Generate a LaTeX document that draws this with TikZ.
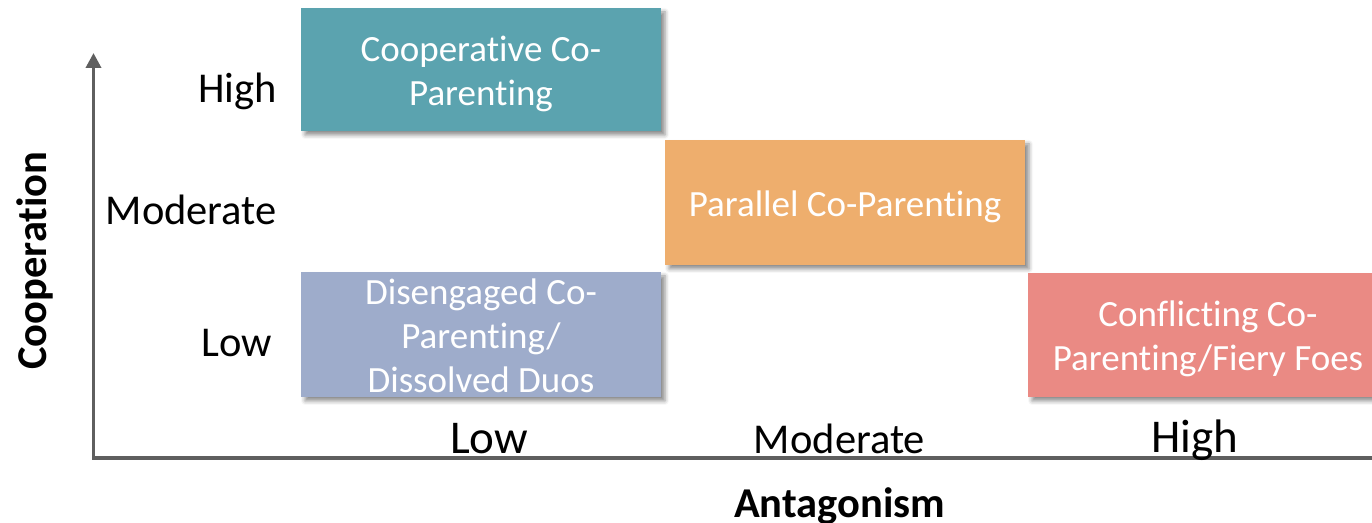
\documentclass[tikz,border=0pt]{standalone}
\usepackage{fontspec}
\setmainfont[Ligatures={NoCommon}]{Carlito}
\usetikzlibrary{arrows.meta,shadows.blur}
\definecolor{coopcol}{HTML}{5BA3AF}
\definecolor{parcol}{HTML}{EEAE6D}
\definecolor{discol}{HTML}{9EACCB}
\definecolor{concol}{HTML}{EA8A84}
\definecolor{axiscol}{HTML}{5F5F5F}
\newcommand{\bxtxt}[1]{\raisebox{-11pt}[0pt][0pt]{\begin{tabular}{@{}c@{}}#1\end{tabular}}}
\tikzset{
  stylebox/.style={rectangle, inner sep=0pt, minimum width=360pt, text=white, align=center,
    font=\fontsize{37}{44}\selectfont,
    blur shadow={shadow xshift=4pt, shadow yshift=-4pt, shadow blur radius=4pt, shadow opacity=45}},
  ylab/.style={anchor=base east, inner sep=0pt, font=\fontsize{42.5}{50}\selectfont},
  xlabbig/.style={anchor=base, inner sep=0pt, font=\fontsize{47}{54}\selectfont},
  xlab/.style={anchor=base, inner sep=0pt, font=\fontsize{42.5}{50}\selectfont},
  axtitle/.style={anchor=base, inner sep=0pt, font=\fontsize{42.5}{50}\selectfont\bfseries},
  axisline/.style={draw=axiscol, line width=3.6pt, line join=miter}
}
\begin{document}
\begin{tikzpicture}[x=1pt,y=1pt]
\useasboundingbox (0,0) rectangle (1372,522);
\clip (0,0) rectangle (1372,522);
% axes
\coordinate (origin) at (93.5,64);
\coordinate (ytip) at (93.5,469);
\coordinate (xend) at (1372,64);
\draw[axisline, {Triangle[width=15pt,length=15pt]}-] (ytip) -- (origin) -- (xend);
% boxes
\node[stylebox, fill=coopcol, minimum height=123pt] (coop) at (481,452.5) {\bxtxt{Cooperative Co-\\Parenting}};
\node[stylebox, fill=parcol, minimum height=125pt] (par) at (845,319.5) {\bxtxt{Parallel Co-Parenting}};
\node[stylebox, fill=discol, minimum height=125pt] (dis) at (481,187.5) {\bxtxt{Disengaged Co-\\Parenting/\\Dissolved Duos}};
\node[stylebox, fill=concol, minimum height=124pt] (con) at (1208,187) {\bxtxt{Conflicting Co-\\Parenting/Fiery Foes}};
% y labels
\node[ylab] (yhigh) at (277,419) {High};
\node[ylab] (ymod) at (277,297) {Moderate};
\node[ylab] (ylow) at (272,165) {Low};
% x labels
\node[xlabbig] (xlow) at (489,69) {Low};
\node[xlab] (xmod) at (839.5,69) {Moderate};
\node[xlabbig] (xhigh) at (1194.5,70) {High};
% axis titles
\node[axtitle] (xtitle) at (839.5,5) {Antagonism};
\node[axtitle, rotate=90] (ytitle) at (46,261.5) {Cooperation};
\end{tikzpicture}
\end{document}
